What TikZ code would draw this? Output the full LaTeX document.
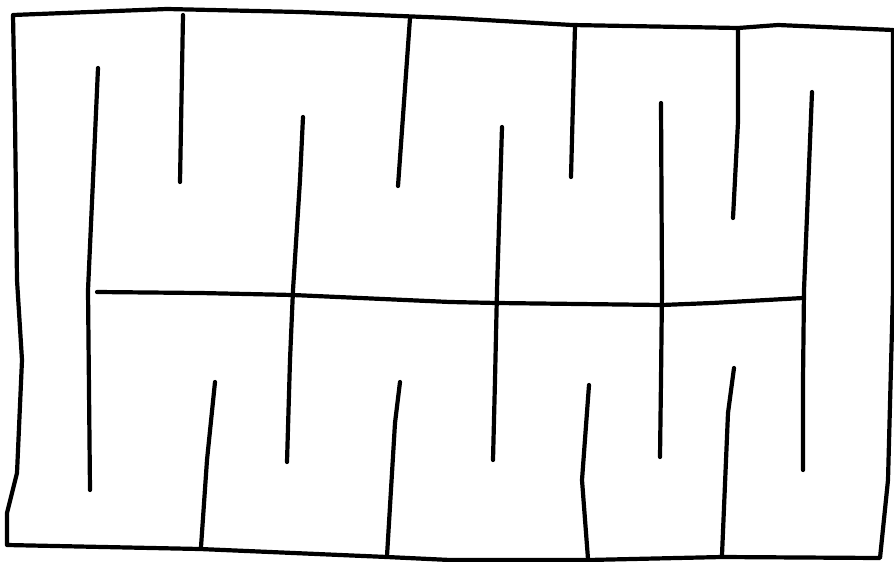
\documentclass[tikz,border=0pt]{standalone}
\begin{document}
\begin{tikzpicture}[x=1pt,y=-1pt,
  wall/.style={draw=black,line width=4.2pt,line cap=round,line join=round}]
\useasboundingbox[fill=white] (0,0) rectangle (894,562);
% outer frame
\draw[wall] (13,15) -- (167,9) -- (300,12) -- (450,18) -- (572,25) -- (738,28) -- (778,25) -- (893,30)
  -- (893,290) -- (888,480) -- (880,558)
  -- (722,557) -- (588,560) -- (450,560) -- (387,557) -- (200,549) -- (7,545)
  -- (7,513) -- (17,473) -- (22,360) -- (17,280) -- (15,120) -- cycle;
% walls hanging from the top
\draw[wall] (183,15) -- (180,182);
\draw[wall] (410,18) -- (398,186);
\draw[wall] (575,26) -- (571,177);
\draw[wall] (738,29) -- (738,122) -- (733,218);
% long free-standing verticals
\draw[wall] (98,68) -- (93,180) -- (88,290) -- (90,490);
\draw[wall] (303,117) -- (300,180) -- (293,290) -- (290,360) -- (287,462);
\draw[wall] (502,127) -- (497,290) -- (495,380) -- (493,460);
\draw[wall] (661,103) -- (662,290) -- (661,380) -- (660,457);
\draw[wall] (812,92) -- (804,290) -- (803,380) -- (803,470);
% horizontal middle wall
\draw[wall] (97,292) -- (200,293) -- (293,295) -- (450,302) -- (497,303) -- (662,305) -- (712,303) -- (803,298);
% walls rising from the bottom
\draw[wall] (215,382) -- (207,460) -- (201,547);
\draw[wall] (400,382) -- (395,423) -- (387,556);
\draw[wall] (589,385) -- (582,480) -- (588,559);
\draw[wall] (734,368) -- (728,413) -- (722,555);
\end{tikzpicture}
\end{document}
